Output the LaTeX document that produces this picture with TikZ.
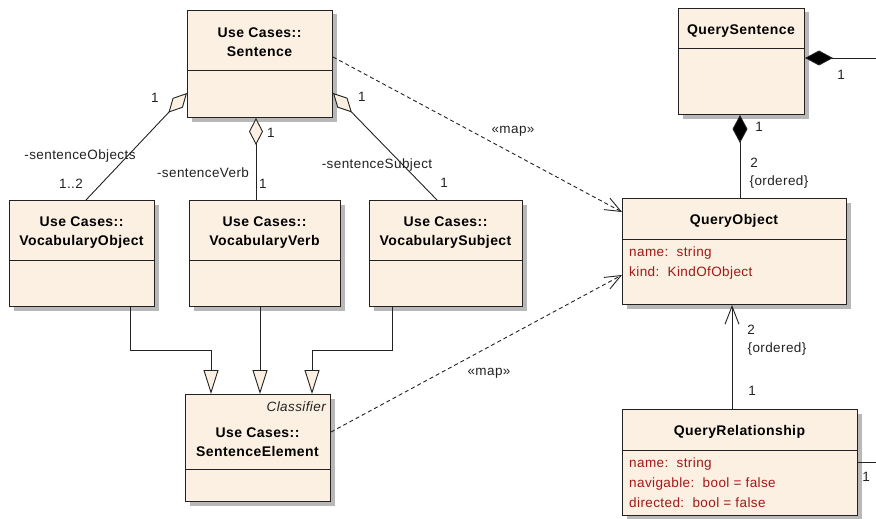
\documentclass[tikz,border=0pt]{standalone}
\usepackage{fontspec}
\setmainfont{Liberation Sans}[LetterSpace=3]
\usetikzlibrary{arrows.meta,shadows}
\definecolor{clsfill}{HTML}{FBF0E1}
\definecolor{attrc}{HTML}{A31818}
\definecolor{edge}{HTML}{222222}
\tikzset{
  cls/.style={draw=edge, fill=clsfill, line width=1pt, anchor=north west, inner sep=0pt,
    drop shadow={shadow xshift=4pt, shadow yshift=-4pt, fill=black!28, opacity=1}},
  ttl/.style={font=\fontsize{14}{19}\selectfont\bfseries, inner sep=0pt, align=center},
  lbl/.style={font=\fontsize{13.5}{15}\selectfont, inner sep=0pt, text=edge},
  attrtxt/.style={font=\fontsize{13.5}{15}\selectfont, inner sep=0pt, text=attrc, anchor=west},
  conn/.style={draw=edge, line width=0.9pt},
  agg/.style={conn, {Diamond[fill=clsfill, length=27pt, width=14pt]}-},
  comp/.style={conn, {Diamond[fill=black, length=28pt, width=15pt]}-},
  gen/.style={conn, -{Triangle[fill=clsfill, length=24pt, width=15pt]}},
  nav/.style={conn, -{Straight Barb[length=18pt, width=14pt]}},
  mapdep/.style={conn, dash pattern=on 4pt off 3pt, -{Straight Barb[length=16pt, width=13pt]}},
}
\begin{document}
\begin{tikzpicture}[x=1pt, y=-1pt]
\useasboundingbox (0,0) rectangle (876,519);
% classes
\node[cls, minimum width=145pt, minimum height=107pt] (S) at (187,10) {};
\draw[conn] (187,70) -- (332,70);
\node[ttl] (St) at (259.5,42.5) {Use Cases::\\Sentence};

\node[cls, minimum width=126pt, minimum height=106pt] (QS) at (678,8) {};
\draw[conn] (678,48) -- (804,48);
\node[ttl] (QSt) at (741,31) {QuerySentence};

\node[cls, minimum width=145pt, minimum height=106pt] (VO) at (9,200) {};
\draw[conn] (9,260) -- (154,260);
\node[ttl] (VOt) at (81.5,232.5) {Use Cases::\\VocabularyObject};

\node[cls, minimum width=151pt, minimum height=106pt] (VV) at (189,200) {};
\draw[conn] (189,260) -- (340,260);
\node[ttl] (VVt) at (264.5,232.5) {Use Cases::\\VocabularyVerb};

\node[cls, minimum width=153pt, minimum height=106pt] (VS) at (369,200) {};
\draw[conn] (369,260) -- (522,260);
\node[ttl] (VSt) at (445.5,232.5) {Use Cases::\\VocabularySubject};

\node[cls, minimum width=145pt, minimum height=107pt] (SE) at (185,394) {};
\draw[conn] (185,469) -- (330,469);
\node[lbl, anchor=east, font=\fontsize{13.5}{15}\selectfont\itshape] (SEc) at (326,407) {Classifier};
\node[ttl] (SEt) at (257.5,442) {Use Cases::\\SentenceElement};

\node[cls, minimum width=224pt, minimum height=106pt] (QO) at (622,198) {};
\draw[conn] (622,239) -- (846,239);
\node[ttl] (QOt) at (734,221) {QueryObject};
\node[attrtxt] (QOa1) at (629,253) {name:\ \ string};
\node[attrtxt] (QOa2) at (629,273) {kind:\ \ KindOfObject};

\node[cls, minimum width=235pt, minimum height=106pt] (QR) at (622,409) {};
\draw[conn] (622,450) -- (857,450);
\node[ttl] (QRt) at (739.5,432) {QueryRelationship};
\node[attrtxt] (QRa1) at (629,464) {name:\ \ string};
\node[attrtxt] (QRa2) at (629,484) {navigable:\ \ bool = false};
\node[attrtxt] (QRa3) at (629,503) {directed:\ \ bool = false};

% free ends
\coordinate (qsR) at (876,58);
\coordinate (qrR) at (876,462);

% aggregations
\draw[agg] ([yshift=25pt]S.south west) -- ([xshift=77pt]VO.north west);
\draw[agg] ([xshift=69pt]S.south west) -- ([xshift=67pt]VV.north west);
\draw[agg] ([yshift=25pt]S.south east) -- ([xshift=68pt]VS.north west);

% generalizations
\draw[gen] ([xshift=-25pt]VO.south east) -- ++(0,43) -| ([xshift=26pt]SE.north west);
\draw[gen] ([xshift=71pt]VV.south west) -- ([xshift=75pt]SE.north west);
\draw[gen] ([xshift=23pt]VS.south west) -- ++(0,43) -| ([xshift=127pt]SE.north west);

% map dependencies
\draw[mapdep] ([yshift=-47pt]S.north east) -- ([yshift=-14pt]QO.north west);
\draw[mapdep] ([yshift=-38pt]SE.north east) -- ([yshift=-77pt]QO.north west);

% compositions and others
\draw[comp] ([yshift=-50pt]QS.north east) -- (qsR);
\draw[comp] ([xshift=62pt]QS.south west) -- ([xshift=118pt]QO.north west);
\draw[nav] ([xshift=110pt]QR.north west) -- ([xshift=110pt]QO.south west);
\draw[conn] ([yshift=-53pt]QR.north east) -- (qrR);

% labels
\node[lbl] (l1) at (155,98) {1};
\node[lbl] (l2) at (80,156) {-sentenceObjects};
\node[lbl] (l3) at (71,184) {1..2};
\node[lbl] (l4) at (271,133) {1};
\node[lbl] (l5) at (203,173) {-sentenceVerb};
\node[lbl] (l6) at (263,184) {1};
\node[lbl] (l7) at (362,97) {1};
\node[lbl] (l8) at (377,165) {-sentenceSubject};
\node[lbl] (l9) at (444,183) {1};
\node[lbl] (m1) at (513,131) {«map»};
\node[lbl] (m2) at (489,373) {«map»};
\node[lbl] (q1) at (841,75) {1};
\node[lbl] (q2) at (759,127) {1};
\node[lbl] (q3) at (754,163) {2};
\node[lbl] (q4) at (779,182) {\{ordered\}};
\node[lbl] (q5) at (751,330) {2};
\node[lbl] (q6) at (777,349) {\{ordered\}};
\node[lbl] (q7) at (752,391) {1};
\node[lbl] (q8) at (866,477) {1};
\end{tikzpicture}
\end{document}
